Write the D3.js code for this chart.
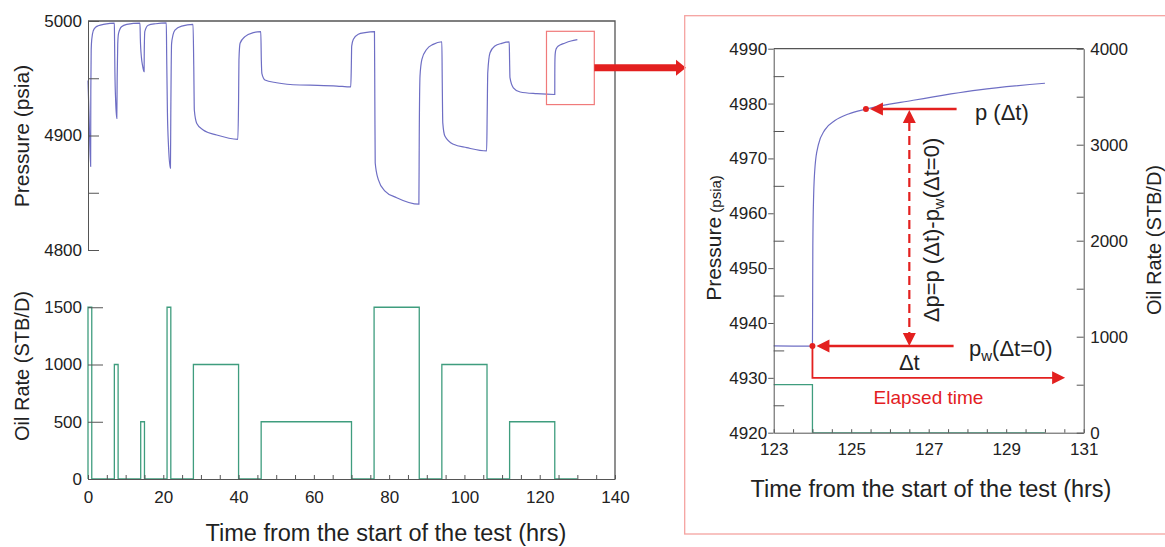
<!DOCTYPE html>
<html>
<head>
<meta charset="utf-8">
<script src="https://cdn.jsdelivr.net/npm/d3@7"></script>
<style>
  body { margin: 0; background: #fff; }
  svg { display: block; font-family: "Liberation Sans", Arial, sans-serif; }
  .axis path, .axis line { stroke: #555; }
  .axis text { font-size: 17px; fill: #222; font-family: "Liberation Sans", Arial, sans-serif; }
</style>
</head>
<body>
<svg id="chart" width="1165" height="547"></svg>
<script>
// flow periods (hrs) and oil rates (STB/D)
const flowStart = [0, 7, 14, 21, 28, 46, 76, 94, 112];
const flowEnd   = [1, 8, 15, 22, 40, 70, 88, 106, 124];
const flowRate  = [1500, 1000, 500, 1500, 1000, 500, 1500, 1000, 500];
const testEnd = 130;

// bottomhole pressure record (hrs, psia)
const pressureTime = [
  0, 0.3, 0.7,
  0.75, 0.85, 1.0, 1.4, 2.0, 2.7, 4.5, 7.0,
  7.05, 7.15, 7.35, 7.65,
  7.75, 7.9, 8.1, 8.9, 10.3, 13.8,
  13.9, 14.2, 14.5, 14.9,
  14.95, 15.1, 16.0, 18.0, 20.8,
  20.9, 21.1, 21.4, 21.9,
  22.0, 22.2, 22.6, 23.1, 24.9, 27.9,
  28.1, 28.25, 28.9, 30.6, 34.2, 39.8,
  40.0, 40.1, 40.4, 41.7, 43.9, 45.9,
  46.05, 46.2, 47.0, 50.1, 56.3, 61.0, 66.1, 69.8,
  69.95, 70.05, 70.5, 71.8, 73.6, 76.1,
  76.2, 76.3, 77.1, 78.9, 82.0, 87.9,
  88.0, 88.2, 88.7, 90.0, 91.7, 94.0,
  94.1, 94.25, 94.8, 97.1, 100.6, 105.9,
  106.05, 106.2, 106.8, 108.1, 109.9, 111.9,
  112.0, 112.1, 113.0, 114.8, 119.2, 124.0,
  124.01, 124.03, 124.07, 124.15, 124.32, 124.58, 124.93, 125.38, 126.6, 128.3, 130.0
];
const pressureValue = [
  4948, 4915, 4873,
  4940, 4975, 4984, 4991.5, 4994.5, 4995.8, 4997.3, 4998.2,
  4985, 4955, 4930, 4915,
  4950, 4980, 4989, 4995, 4997, 4998.2,
  4985, 4968, 4961, 4955.7,
  4975, 4991, 4996.3, 4997.6, 4998.3,
  4970, 4920, 4890, 4871.5,
  4920, 4980, 4988, 4992, 4995.5, 4997,
  4960, 4922, 4910.5, 4904.8, 4900.4, 4896.7,
  4930, 4966, 4980.5, 4986.3, 4989.8, 4990.7,
  4965, 4954, 4948.5, 4946.1, 4944.1, 4943.8, 4943.2, 4942.4,
  4960, 4978, 4984, 4988.4, 4989.8, 4990.7,
  4930, 4876, 4861.7, 4851.5, 4845.7, 4840,
  4900, 4952, 4966.5, 4975.3, 4979.6, 4981.9,
  4950, 4911, 4899.6, 4892.3, 4889.4, 4886.5,
  4920, 4955, 4972.3, 4978.2, 4980.5, 4981.7,
  4965, 4950.5, 4941.7, 4938, 4936.5, 4935.8,
  4954, 4963, 4968.8, 4972.4, 4975.2, 4976.9, 4978.1, 4979, 4980.6, 4982.5, 4983.7
];

// shut-in analysed in the detail panel
const shutInTime = 124.0, shutInPressure = 4935.8;
const sampleTime = 125.38, samplePressure = 4979;
const detailWindowT = [121.8, 134.5];
const detailWindowP = [4927, 4991];

// axis ticks
const mainTimeTicks = d3.range(0, 141, 5);
const pressureTicks = [4800, 4850, 4900, 4950, 5000];
const rateTicks = [0, 500, 1000, 1500];
const detailTimeTicks = d3.range(123, 131.01, 0.5);
const detailPressureMajor = [4920, 4930, 4940, 4950, 4960, 4970, 4980, 4990];
const detailPressureMinor = [4925, 4935, 4945, 4955, 4965, 4975, 4985];
const detailRateTicks = d3.range(0, 4001, 500);

const pressureColor = "#6e6ec4";
const rateColor = "#3f9d7e";
const red = "#e3201f";
const plain = d3.format("d");

const svg = d3.select("#chart");
svg.append("rect").attr("width", 1165).attr("height", 547).attr("fill", "#fff");

// step line for the rate history
const ratePoints = [[0, 0]];
flowStart.forEach((s, i) => {
  ratePoints.push([s, 0], [s, flowRate[i]], [flowEnd[i], flowRate[i]], [flowEnd[i], 0]);
});
ratePoints.push([testEnd, 0]);
const pressurePoints = pressureTime.map((t, i) => [t, pressureValue[i]]);

// ---------- main chart ----------
const x = d3.scaleLinear().domain([0, 140]).range([88, 615]);
const yP = d3.scaleLinear().domain([4800, 5000]).range([250, 21]);
const yQ = d3.scaleLinear().domain([0, 2000]).range([479, 250]);

const main = svg.append("g");

main.append("path")
  .attr("d", d3.line().x(d => x(d[0])).y(d => yQ(d[1]))(ratePoints))
  .attr("fill", "none").attr("stroke", rateColor).attr("stroke-width", 1.3);

main.append("path")
  .attr("d", d3.line().curve(d3.curveMonotoneX).x(d => x(d[0])).y(d => yP(d[1]))(pressurePoints))
  .attr("fill", "none").attr("stroke", pressureColor).attr("stroke-width", 1.2);

// frame
main.append("path")
  .attr("d", `M${x(0)},${yP(5000)}H${x(140)}V${yQ(0)}`)
  .attr("fill", "none").attr("stroke", "#555").attr("stroke-width", 1.3);

main.append("g").attr("class", "axis")
  .attr("transform", `translate(${x(0)},0)`)
  .call(d3.axisLeft(yP).tickValues(pressureTicks).tickSizeInner(-11).tickSizeOuter(0).tickPadding(6)
    .tickFormat(d => d % 100 === 0 ? plain(d) : ""));

main.append("g").attr("class", "axis")
  .attr("transform", `translate(${x(0)},0)`)
  .call(d3.axisLeft(yQ).tickValues(rateTicks).tickSizeInner(-15).tickSizeOuter(0).tickPadding(6).tickFormat(plain))
  .call(g => g.select(".domain").remove());

main.append("g").attr("class", "axis")
  .attr("transform", `translate(0,${yQ(0)})`)
  .call(d3.axisBottom(x).tickValues(mainTimeTicks).tickSizeInner(-4).tickSizeOuter(0).tickPadding(12)
    .tickFormat(d => d % 20 === 0 ? plain(d) : ""));

main.append("text")
  .attr("transform", "translate(29,136) rotate(-90)")
  .attr("text-anchor", "middle").attr("font-size", 21).attr("fill", "#222")
  .text("Pressure (psia)");
main.append("text")
  .attr("transform", "translate(29,366) rotate(-90)")
  .attr("text-anchor", "middle").attr("font-size", 20).attr("fill", "#222")
  .text("Oil Rate (STB/D)");
main.append("text")
  .attr("x", 386).attr("y", 541)
  .attr("text-anchor", "middle").attr("font-size", 23.5).attr("fill", "#222")
  .text("Time from the start of the test (hrs)");

// highlighted window and pointer to the detail panel
main.append("rect")
  .attr("x", x(detailWindowT[0])).attr("y", yP(detailWindowP[1]))
  .attr("width", x(detailWindowT[1]) - x(detailWindowT[0]))
  .attr("height", yP(detailWindowP[0]) - yP(detailWindowP[1]))
  .attr("fill", "none").attr("stroke", "#f07a7a").attr("stroke-width", 1.2);

const ax0 = x(detailWindowT[1]), ay = 67.7;
main.append("path")
  .attr("d", `M${ax0},${ay - 3.5}H676V${ay - 8}L686,${ay}L676,${ay + 8}V${ay + 3.5}H${ax0}Z`)
  .attr("fill", red);

// ---------- detail panel ----------
svg.append("rect")
  .attr("x", 684.7).attr("y", 15.7).attr("width", 500).attr("height", 518.3)
  .attr("fill", "none").attr("stroke", "#f5a3a0").attr("stroke-width", 1.3);

const dx = d3.scaleLinear().domain([123, 131]).range([773.7, 1083.7]);
const dyP = d3.scaleLinear().domain([4920, 4990]).range([432.7, 48.7]);
const dyQ = d3.scaleLinear().domain([0, 4000]).range([432.7, 48.7]);

const detail = svg.append("g");
detail.append("clipPath").attr("id", "detail-clip")
  .append("rect").attr("x", dx(123)).attr("y", dyP(4990))
  .attr("width", dx(131) - dx(123)).attr("height", dyP(4920) - dyP(4990));

const plotArea = detail.append("g").attr("clip-path", "url(#detail-clip)");
plotArea.append("path")
  .attr("d", d3.line().x(d => dx(d[0])).y(d => dyQ(d[1]))(ratePoints))
  .attr("fill", "none").attr("stroke", rateColor).attr("stroke-width", 1.3);
plotArea.append("path")
  .attr("d", d3.line().curve(d3.curveMonotoneX).x(d => dx(d[0])).y(d => dyP(d[1]))(pressurePoints))
  .attr("fill", "none").attr("stroke", pressureColor).attr("stroke-width", 1.2);

// top border
detail.append("line")
  .attr("x1", dx(123)).attr("x2", dx(131)).attr("y1", dyP(4990)).attr("y2", dyP(4990))
  .attr("stroke", "#555").attr("stroke-width", 1.3);

detail.append("g").attr("class", "axis")
  .attr("transform", `translate(${dx(123)},0)`)
  .call(d3.axisLeft(dyP).tickValues(detailPressureMajor).tickSizeInner(5.5).tickSizeOuter(0).tickPadding(1).tickFormat(plain));
detail.append("g").attr("class", "axis")
  .attr("transform", `translate(${dx(123)},0)`)
  .call(d3.axisLeft(dyP).tickValues(detailPressureMinor).tickSizeInner(-10.5).tickSizeOuter(0).tickFormat(""))
  .call(g => g.select(".domain").remove());

detail.append("g").attr("class", "axis")
  .attr("transform", `translate(${dx(131)},0)`)
  .call(d3.axisRight(dyQ).tickValues(detailRateTicks).tickSizeInner(-7).tickSizeOuter(0).tickPadding(6.5)
    .tickFormat(d => d % 1000 === 0 ? plain(d) : ""))
  .call(g => g.selectAll("path, line").attr("stroke", "#999"));

detail.append("g").attr("class", "axis")
  .attr("transform", `translate(0,${dyP(4920)})`)
  .call(d3.axisBottom(dx).tickValues(detailTimeTicks).tickSizeInner(-3.5).tickSizeOuter(0).tickPadding(10.5)
    .tickFormat(d => (d - 123) % 2 === 0 ? plain(d) : ""));

const pLabel = detail.append("text")
  .attr("transform", "translate(721,238) rotate(-90)")
  .attr("text-anchor", "middle").attr("fill", "#222");
pLabel.append("tspan").attr("font-size", 21).text("Pressure");
pLabel.append("tspan").attr("font-size", 15).text("\u00a0(psia)");

detail.append("text")
  .attr("transform", "translate(1161,240) rotate(-90)")
  .attr("text-anchor", "middle").attr("font-size", 20).attr("fill", "#222")
  .text("Oil Rate (STB/D)");

detail.append("text")
  .attr("x", 931).attr("y", 496.5)
  .attr("text-anchor", "middle").attr("font-size", 23.5).attr("fill", "#222")
  .text("Time from the start of the test (hrs)");

// ---------- annotations ----------
const ann = detail.append("g");
const sx = dx(sampleTime), sy = dyP(samplePressure);
const wx = dx(shutInTime), wy = dyP(shutInPressure);
const arrowT = 127.72;
const dpT = 126.5;
const elapsedP = 4930, elapsedEnd = 130.52;

function headLeft(tipX, tipY) {
  return `M${tipX},${tipY}L${tipX + 13},${tipY - 6.5}L${tipX + 13},${tipY + 6.5}Z`;
}

// p(Δt) arrow
ann.append("line").attr("x1", dx(arrowT)).attr("x2", sx + 14).attr("y1", sy).attr("y2", sy)
  .attr("stroke", red).attr("stroke-width", 2.5);
ann.append("path").attr("d", headLeft(sx + 4, sy)).attr("fill", red);
// pw(Δt=0) arrow
ann.append("line").attr("x1", dx(arrowT) - 3).attr("x2", wx + 14).attr("y1", wy).attr("y2", wy)
  .attr("stroke", red).attr("stroke-width", 2.5);
ann.append("path").attr("d", headLeft(wx + 4, wy)).attr("fill", red);

// Δp double arrow
const px = dx(dpT);
ann.append("line").attr("x1", px).attr("x2", px).attr("y1", sy + 13).attr("y2", wy - 13)
  .attr("stroke", red).attr("stroke-width", 2.2).attr("stroke-dasharray", "9,5");
ann.append("path").attr("d", `M${px},${sy + 1}L${px - 6.5},${sy + 14}L${px + 6.5},${sy + 14}Z`).attr("fill", red);
ann.append("path").attr("d", `M${px},${wy}L${px - 6.5},${wy - 13}L${px + 6.5},${wy - 13}Z`).attr("fill", red);

// elapsed time arrow
const ey = dyP(elapsedP), ex = dx(elapsedEnd);
ann.append("path").attr("d", `M${wx},${wy}V${ey}H${ex - 12}`)
  .attr("fill", "none").attr("stroke", red).attr("stroke-width", 1.8);
ann.append("path").attr("d", `M${ex},${ey}L${ex - 13},${ey - 6.5}L${ex - 13},${ey + 6.5}Z`).attr("fill", red);

ann.append("circle").attr("cx", sx).attr("cy", sy).attr("r", 3).attr("fill", red);
ann.append("circle").attr("cx", wx).attr("cy", wy).attr("r", 3).attr("fill", red);

ann.append("text").attr("x", 975).attr("y", 119.5)
  .attr("font-size", 22).attr("fill", "#222").text("p (Δt)");

const pwText = ann.append("text").attr("x", 969).attr("y", 355.5)
  .attr("font-size", 22).attr("fill", "#222");
pwText.append("tspan").text("p");
pwText.append("tspan").attr("font-size", 15).attr("dy", 5).text("w");
pwText.append("tspan").attr("dy", -5).text("(Δt=0)");

ann.append("text").attr("x", px).attr("y", 369.5)
  .attr("text-anchor", "middle").attr("font-size", 22).attr("fill", "#222").text("Δt");

const dpText = ann.append("text")
  .attr("transform", "translate(938.5,230) rotate(-90)")
  .attr("text-anchor", "middle").attr("font-size", 22).attr("fill", "#222");
dpText.append("tspan").text("Δp=p (Δt)-p");
dpText.append("tspan").attr("font-size", 15).attr("dy", 5).text("w");
dpText.append("tspan").attr("dy", -5).text("(Δt=0)");

ann.append("text").attr("x", 928.5).attr("y", 403.5)
  .attr("text-anchor", "middle").attr("font-size", 19).attr("fill", red).text("Elapsed time");
</script>
</body>
</html>
